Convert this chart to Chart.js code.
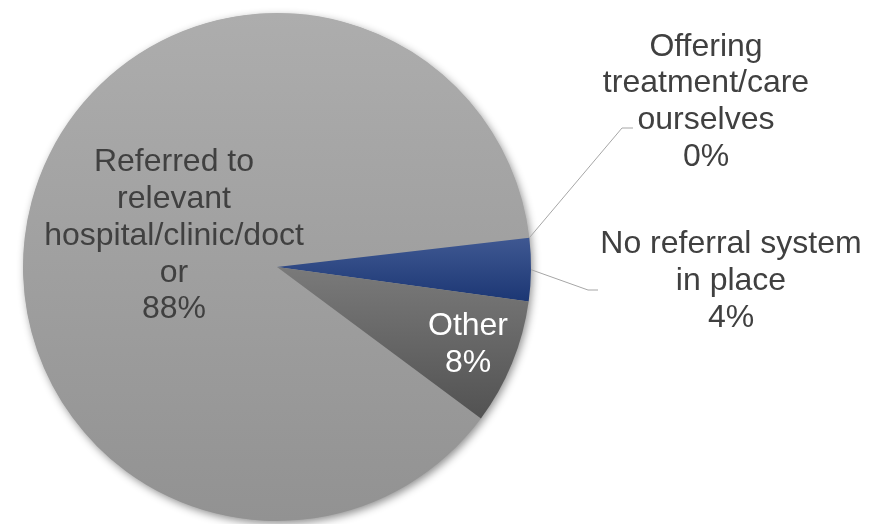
<!DOCTYPE html>
<html>
<head>
<meta charset="utf-8">
<script src="https://cdn.jsdelivr.net/npm/chart.js@4/dist/chart.umd.min.js"></script>
<style>
    html, body { margin: 0; padding: 0; background: #fff; }
    #wrap { width: 875px; height: 524px; position: relative; }
</style>
</head>
<body>
<div id="wrap"><canvas id="pie"></canvas></div>
<script>
    // referral handling breakdown, in chart order (clockwise)
    const categories = [
        'Referred to relevant hospital/clinic/doctor',
        'Offering treatment/care ourselves',
        'No referral system in place',
        'Other'
    ];
    const shares = [88, 0, 4, 8];

    // wrapped label lines as they appear on the chart
    const labelLines = [
        ['Referred to', 'relevant', 'hospital/clinic/doct', 'or'],
        ['Offering', 'treatment/care', 'ourselves'],
        ['No referral system', 'in place'],
        ['Other']
    ];

    // slice fills: top and bottom colour of each gradient
    const fillTop = ['#adadad', '#4a4a4a', '#3f5892', '#7a7a7a'];
    const fillBottom = ['#929292', '#2a2a2a', '#1c3774', '#525252'];

    // label placement: centre of block, text colour, leader line (if outside)
    const labelPos = [
        { x: 174, y: 236, color: '#404040' },
        { x: 706, y: 102, color: '#404040', leader: [[622, 128], [633, 128]] },
        { x: 731, y: 281, color: '#404040', leader: [[588, 290], [598, 290]] },
        { x: 468, y: 345, color: '#ffffff' }
    ];

    const ROTATION = 126.6;
    const FONT = '32px "Liberation Sans", Arial, sans-serif';
    const LINE_H = 36.7;

    // vertical gradient spanning each slice's own height
    function sliceFill(ctx) {
        const chart = ctx.chart;
        const i = ctx.dataIndex;
        const area = chart.chartArea;
        if (!area) return fillTop[i];
        const cx = (area.left + area.right) / 2;
        const cy = (area.top + area.bottom) / 2;
        const r = Math.min(area.right - area.left, area.bottom - area.top) / 2;
        const total = shares.reduce((s, v) => s + v, 0);
        let a0 = (ROTATION - 90) * Math.PI / 180;
        for (let k = 0; k < i; k++) a0 += shares[k] / total * Math.PI * 2;
        const a1 = a0 + shares[i] / total * Math.PI * 2;
        const ys = [cy];
        for (let k = 0; k <= 60; k++) {
            ys.push(cy + r * Math.sin(a0 + (a1 - a0) * k / 60));
        }
        const y0 = Math.min(...ys), y1 = Math.max(...ys);
        const g = chart.ctx.createLinearGradient(0, y0, 0, Math.max(y1, y0 + 1));
        g.addColorStop(0, fillTop[i]);
        g.addColorStop(1, fillBottom[i]);
        return g;
    }

    // soft drop shadow behind the whole pie
    const pieShadow = {
        id: 'pieShadow',
        beforeDatasetsDraw(chart) {
            const arc = chart.getDatasetMeta(0).data[0];
            if (!arc) return;
            const c = chart.ctx;
            c.save();
            c.shadowColor = 'rgba(0,0,0,0.45)';
            c.shadowBlur = 9;
            c.shadowOffsetX = 2;
            c.shadowOffsetY = 3;
            c.fillStyle = '#a0a0a0';
            c.beginPath();
            c.arc(arc.x, arc.y, arc.outerRadius - 0.5, 0, Math.PI * 2);
            c.fill();
            c.restore();
        }
    };

    // data labels: category lines plus the percentage, leader lines for outside ones
    const sliceLabels = {
        id: 'sliceLabels',
        afterDatasetsDraw(chart) {
            const c = chart.ctx;
            const meta = chart.getDatasetMeta(0);
            c.save();
            c.font = FONT;
            c.textAlign = 'center';
            c.textBaseline = 'middle';
            meta.data.forEach((arc, i) => {
                const pos = labelPos[i];
                const lines = labelLines[i].concat([shares[i] + '%']);
                if (pos.leader) {
                    // anchor on the outer edge, at the middle of the slice
                    const mid = (arc.startAngle + arc.endAngle) / 2;
                    const ax = arc.x + arc.outerRadius * Math.cos(mid);
                    const ay = arc.y + arc.outerRadius * Math.sin(mid);
                    c.strokeStyle = '#a6a6a6';
                    c.lineWidth = 1;
                    c.beginPath();
                    c.moveTo(ax, ay);
                    pos.leader.forEach(p => c.lineTo(p[0], p[1]));
                    c.stroke();
                }
                c.fillStyle = pos.color;
                const top = pos.y - (lines.length - 1) * LINE_H / 2;
                lines.forEach((t, k) => c.fillText(t, pos.x, top + k * LINE_H));
            });
            c.restore();
        }
    };

    new Chart(document.getElementById('pie'), {
        type: 'pie',
        data: {
            labels: categories,
            datasets: [{
                data: shares,
                backgroundColor: sliceFill,
                borderWidth: 0,
                hoverOffset: 0,
                offset: 0
            }]
        },
        options: {
            responsive: true,
            maintainAspectRatio: false,
            animation: false,
            rotation: ROTATION,
            layout: { padding: { left: 23, right: 344, top: 13, bottom: 3 } },
            plugins: {
                legend: { display: false },
                tooltip: { enabled: false }
            }
        },
        plugins: [pieShadow, sliceLabels]
    });
</script>
</body>
</html>
